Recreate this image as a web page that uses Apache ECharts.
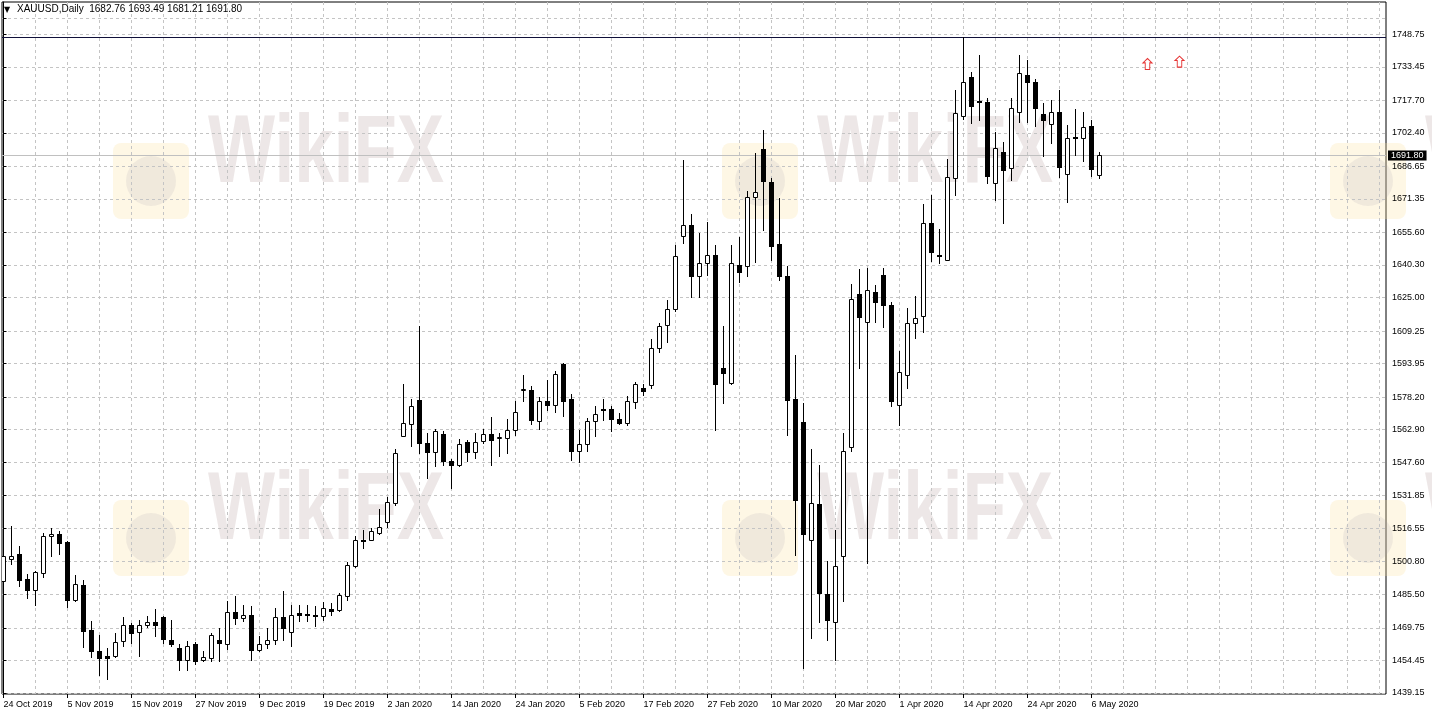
<!DOCTYPE html>
<html>
<head>
<meta charset="utf-8">
<script src="https://cdn.jsdelivr.net/npm/echarts@6/dist/echarts.min.js"></script>
<style>html,body{margin:0;padding:0;background:#fff;}#chart{width:1432px;height:717px;}</style>
</head>
<body>
<div id="chart"></div>
<script>
// ---------------- data ----------------
const symbolName = 'XAUUSD,Daily';
const lastBar = ['1682.76', '1693.49', '1681.21', '1691.80'];
const dateLabels = ['24 Oct 2019', '5 Nov 2019', '15 Nov 2019', '27 Nov 2019', '9 Dec 2019', '19 Dec 2019',
  '2 Jan 2020', '14 Jan 2020', '24 Jan 2020', '5 Feb 2020', '17 Feb 2020', '27 Feb 2020',
  '10 Mar 2020', '20 Mar 2020', '1 Apr 2020', '14 Apr 2020', '24 Apr 2020', '6 May 2020'];
const barsPerDateLabel = 8;
const priceTicks = [1439.15, 1454.45, 1469.75, 1485.50, 1500.80, 1516.55, 1531.85, 1547.60, 1562.90,
  1578.20, 1593.95, 1609.25, 1625.00, 1640.30, 1655.60, 1671.35, 1686.65, 1702.40, 1717.70, 1733.45, 1748.75];
const unlabelledGridLevels = [1756.3];
// daily bars: [open, high, low, close]
const ohlc = [
  [1491.6,1505.0,1488.6,1503.3],[1502.2,1517.6,1499.6,1503.5],[1504.6,1508.4,1489.6,1492.2],[1492.7,1495.2,1483.7,1487.4],
  [1487.7,1496.6,1480.6,1495.8],[1495.5,1514.3,1493.6,1513.1],[1512.7,1516.7,1503.3,1514.0],[1514.0,1515.1,1504.5,1509.6],
  [1509.9,1510.4,1479.6,1483.0],[1482.7,1494.4,1482.2,1490.5],[1490.0,1492.4,1460.8,1468.1],[1468.6,1472.8,1456.1,1458.7],
  [1458.9,1466.5,1447.7,1455.6],[1456.4,1460.3,1445.7,1455.6],[1456.4,1467.4,1456.1,1463.1],[1463.4,1474.9,1461.4,1471.2],
  [1471.2,1472.0,1462.6,1467.4],[1467.8,1473.6,1456.4,1471.2],[1470.9,1475.1,1470.2,1472.5],[1472.5,1478.6,1465.7,1471.2],
  [1474.9,1475.4,1462.6,1464.5],[1464.2,1473.6,1461.1,1461.9],[1460.3,1461.9,1450.1,1454.8],[1454.8,1463.4,1450.1,1461.4],
  [1461.9,1462.9,1452.5,1454.0],[1454.5,1458.7,1454.3,1456.1],[1455.6,1467.4,1454.0,1466.5],[1463.9,1469.7,1454.0,1462.6],
  [1462.3,1482.2,1459.8,1477.2],[1477.2,1484.5,1471.7,1474.4],[1474.4,1480.6,1472.8,1476.0],[1476.0,1479.8,1454.8,1459.5],
  [1459.2,1465.7,1458.7,1461.9],[1461.9,1469.7,1460.3,1464.2],[1463.9,1479.1,1462.3,1474.9],[1474.9,1486.9,1463.9,1469.7],
  [1467.8,1480.6,1461.4,1476.0],[1476.6,1480.6,1472.8,1475.8],[1476.3,1480.6,1472.8,1475.9],[1475.6,1480.2,1470.4,1475.2],
  [1475.1,1481.9,1473.3,1479.1],[1478.8,1481.4,1476.0,1477.8],[1478.3,1486.1,1477.5,1485.3],[1484.9,1500.8,1483.0,1499.4],
  [1499.0,1512.7,1498.1,1511.2],[1511.0,1515.5,1507.3,1510.6],[1511.2,1516.7,1510.9,1515.4],[1514.3,1525.6,1513.8,1517.2],
  [1519.5,1531.2,1517.2,1528.9],[1528.4,1553.8,1527.6,1551.9],[1560.0,1584.5,1559.7,1566.0],[1565.7,1577.3,1555.3,1573.8],
  [1577.0,1611.7,1551.9,1556.6],[1556.6,1561.3,1540.2,1552.2],[1552.2,1563.3,1545.6,1562.1],[1561.0,1562.1,1546.4,1548.0],
  [1548.3,1549.2,1535.5,1546.1],[1546.1,1558.5,1545.8,1556.3],[1556.9,1558.2,1548.0,1552.2],[1552.4,1561.3,1549.6,1557.1],
  [1557.4,1563.2,1556.6,1561.0],[1561.0,1568.8,1546.4,1557.8],[1559.0,1561.3,1550.3,1559.3],[1558.9,1567.9,1551.9,1562.8],
  [1562.8,1576.2,1560.5,1571.2],[1582.0,1588.7,1576.2,1582.2],[1581.6,1583.5,1565.7,1567.2],[1567.1,1578.2,1563.2,1576.6],
  [1576.6,1586.3,1572.3,1574.5],[1574.6,1590.7,1571.0,1589.2],[1593.9,1594.2,1569.1,1576.6],[1577.3,1579.8,1548.7,1552.7],
  [1552.7,1562.8,1547.5,1556.3],[1556.1,1568.4,1552.7,1567.1],[1566.8,1573.8,1559.7,1570.4],[1572.8,1577.3,1567.5,1572.4],
  [1572.7,1574.1,1562.1,1567.9],[1567.9,1570.7,1565.7,1566.0],[1566.0,1578.5,1565.2,1576.2],[1575.9,1585.2,1573.0,1584.5],
  [1582.4,1584.3,1579.3,1581.3],[1584.0,1605.5,1582.4,1601.2],[1601.5,1613.0,1599.6,1611.7],[1611.9,1623.9,1603.9,1619.6],
  [1619.7,1649.7,1618.9,1644.3],[1654.1,1689.7,1650.8,1659.2],[1659.2,1664.3,1625.2,1634.9],[1634.9,1655.3,1625.2,1641.2],
  [1641.2,1660.7,1635.7,1645.1],[1645.1,1649.7,1562.8,1584.5],[1591.8,1611.4,1575.4,1589.5],[1584.8,1649.7,1584.3,1641.2],
  [1640.4,1653.4,1632.1,1636.8],[1640.0,1675.3,1634.9,1672.2],[1672.2,1692.8,1641.5,1674.5],[1694.7,1703.8,1656.8,1680.0],
  [1679.5,1681.1,1642.7,1649.0],[1650.2,1671.7,1633.3,1634.9],[1634.9,1640.0,1560.5,1577.0],[1577.3,1598.1,1504.1,1529.6],
  [1566.5,1575.4,1450.9,1514.0],[1510.9,1553.8,1465.0,1528.4],[1528.1,1546.4,1472.3,1486.1],[1485.8,1501.0,1463.9,1473.3],
  [1472.3,1515.9,1454.8,1499.0],[1503.6,1561.3,1482.2,1553.0],[1554.7,1631.4,1552.7,1624.3],[1626.7,1638.3,1591.8,1615.8],
  [1613.7,1639.0,1500.2,1628.6],[1627.8,1631.0,1613.3,1622.7],[1635.7,1638.8,1611.1,1621.3],[1621.6,1622.7,1573.8,1576.2],
  [1574.6,1600.1,1565.2,1590.2],[1588.7,1620.0,1582.4,1613.0],[1613.0,1625.8,1606.0,1615.3],[1616.4,1669.0,1609.0,1660.0],
  [1660.0,1673.3,1642.4,1646.6],[1645.0,1657.1,1641.2,1644.6],[1642.7,1690.0,1642.5,1681.6],[1681.1,1722.6,1673.3,1711.9],
  [1710.4,1747.7,1708.8,1726.2],[1728.5,1731.2,1707.2,1715.2],[1717.4,1739.0,1708.5,1717.0],[1716.8,1718.7,1679.0,1681.9],
  [1678.8,1703.0,1670.9,1695.2],[1693.6,1698.0,1660.2,1685.0],[1685.8,1718.7,1680.3,1714.0],[1712.4,1739.0,1707.7,1730.4],
  [1729.6,1736.7,1707.7,1726.2],[1726.2,1727.6,1705.7,1714.3],[1711.3,1716.6,1691.6,1708.5],[1706.5,1717.9,1697.8,1712.4],
  [1712.4,1722.6,1681.6,1686.6],[1683.0,1706.1,1670.1,1699.9],[1700.7,1713.5,1692.0,1700.3],[1699.9,1712.4,1689.4,1705.1],
  [1705.7,1708.5,1681.9,1685.3],[1682.76,1693.49,1681.21,1691.80]
];
const horizontalLevel = 1747.3;     // drawn horizontal line object
const currentPrice = 1691.80;       // bid line
const arrowPoints = [[143, 1734.8], [147, 1735.9]]; // [bar index, price]
const totalSlots = 173;             // bars + empty space on the right

// ---------------- chart ----------------
const FONT = "'Liberation Sans', Arial, sans-serif";
const xMin = -0.1875, xMax = xMin + totalSlots;
const labelIdx = dateLabels.map((d, i) => i * barsPerDateLabel);
const vGridIdx = [];
for (let i = 0; i < totalSlots; i += 4) vGridIdx.push(i);
const yGridLevels = priceTicks.concat(unlabelledGridLevels);

const candleData = ohlc.map((d, i) => [i, d[0], d[1], d[2], d[3]]);

function renderCandle(params, api) {
  const i = api.value(0), o = api.value(1), h = api.value(2), l = api.value(3), c = api.value(4);
  const pO = api.coord([i, o]), pC = api.coord([i, c]);
  const pH = api.coord([i, h]), pL = api.coord([i, l]);
  const x = Math.floor(pO[0]) + 0.5;
  const top = Math.round(Math.min(pO[1], pC[1]));
  const bot = Math.round(Math.max(pO[1], pC[1]));
  const children = [{
    type: 'line',
    shape: { x1: x, y1: Math.round(pH[1]), x2: x, y2: Math.round(pL[1]) + 1 },
    style: { stroke: '#000', lineWidth: 1 }
  }];
  if (c >= o) {
    children.push({
      type: 'rect',
      shape: { x: x - 2, y: top + 0.5, width: 4, height: Math.max(bot - top, 1) },
      style: { fill: '#fff', stroke: '#000', lineWidth: 1 }
    });
  } else {
    children.push({
      type: 'rect',
      shape: { x: x - 2.5, y: top, width: 5, height: Math.max(bot - top, 1) + 1 },
      style: { fill: '#000' }
    });
  }
  return { type: 'group', children: children };
}

// watermark decorations
const wmPositions = [[113, 143], [722, 143], [1330, 143], [113, 500], [722, 500], [1330, 500]];
const graphics = [];
wmPositions.forEach(p => {
  graphics.push({ type: 'rect', z: 0, silent: true, shape: { x: p[0], y: p[1], width: 76, height: 76, r: 8 },
    style: { fill: 'rgba(250,228,160,0.28)' } });
  graphics.push({ type: 'circle', z: 0, silent: true, shape: { cx: p[0] + 38, cy: p[1] + 38, r: 25 },
    style: { fill: 'rgba(170,160,175,0.16)' } });
  graphics.push({ type: 'text', z: 0, silent: true, x: p[0] + 95, y: p[1] - 35, scaleX: 0.74,
    style: { text: 'WikiFX', font: "bold 96px 'Liberation Sans', Arial, sans-serif", fill: 'rgba(195,175,175,0.30)' } });
});
graphics.push({ type: 'text', z: 10, left: 4, top: 6, style: { text: '\u25BC', font: "8px 'DejaVu Sans', sans-serif", fill: '#000' } });
graphics.push({ type: 'text', z: 10, left: 17, top: 4,
  style: { text: symbolName + '  ' + lastBar.join(' '), font: '10px ' + FONT, fill: '#000' } });

const option = {
  animation: false,
  backgroundColor: '#fff',
  graphic: graphics,
  grid: { left: 2, right: 46, top: 2, bottom: 23, show: true, borderColor: '#000', borderWidth: 1, backgroundColor: 'transparent' },
  xAxis: [{
    type: 'value', min: xMin, max: xMax, position: 'bottom',
    axisLine: { show: false },
    axisTick: { show: true, length: 4, customValues: labelIdx, lineStyle: { color: '#000' } },
    axisLabel: { customValues: labelIdx, align: 'left', margin: 6, fontSize: 9, fontFamily: FONT, color: '#000',
      formatter: v => dateLabels[Math.round(v / barsPerDateLabel)] || '' },
    splitLine: { show: false }
  }, {
    type: 'value', min: xMin, max: xMax, position: 'top',
    axisLine: { show: false }, axisLabel: { show: false },
    axisTick: { show: false, customValues: vGridIdx },
    splitLine: { show: true, lineStyle: { color: '#c4c4c4', type: [3, 3], width: 1 } }
  }],
  yAxis: {
    type: 'value', position: 'right', min: 1438.63, max: 1763.93, scale: true,
    axisLine: { show: true, lineStyle: { color: '#000' } },
    axisTick: { show: true, length: 3, customValues: yGridLevels, lineStyle: { color: '#000' } },
    axisLabel: { customValues: priceTicks, margin: 6, fontSize: 9, fontFamily: FONT, color: '#000',
      formatter: v => v.toFixed(2) },
    splitLine: { show: true, lineStyle: { color: '#c4c4c4', type: [3, 3], width: 1 } }
  },
  series: [{
    type: 'custom',
    xAxisIndex: 0,
    renderItem: renderCandle,
    data: candleData,
    encode: { x: 0, y: [1, 2, 3, 4] },
    clip: true,
    z: 5,
    markLine: {
      silent: true, symbol: ['none', 'none'], animation: false,
      data: [
        { yAxis: currentPrice, lineStyle: { color: '#c0c0c0', type: 'solid', width: 1 },
          label: { show: true, position: 'end', distance: 2, formatter: currentPrice.toFixed(2),
            backgroundColor: '#000', color: '#fff', padding: [1, 3, 0, 3], fontSize: 9, fontFamily: FONT } },
        { yAxis: horizontalLevel, lineStyle: { color: '#10103a', type: 'solid', width: 1 }, label: { show: false } }
      ]
    }
  }, {
    type: 'scatter',
    xAxisIndex: 0,
    data: arrowPoints,
    symbol: 'path://M4,0 L8,4 L6,4 L6,10 L2,10 L2,4 L0,4 Z',
    symbolSize: [9, 11],
    itemStyle: { color: '#fff', borderColor: '#e00000', borderWidth: 1 },
    z: 6, silent: true
  }]
};

const chart = echarts.init(document.getElementById('chart'), null, { renderer: 'canvas' });
chart.setOption(option);
</script>
</body>
</html>
